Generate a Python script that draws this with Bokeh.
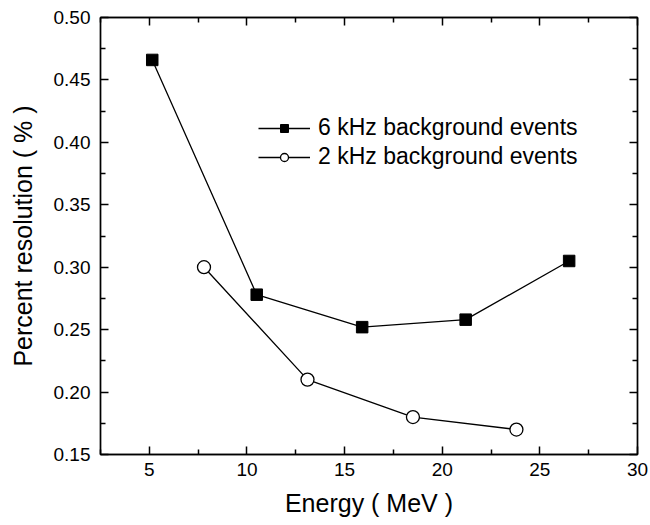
from bokeh.plotting import figure
from bokeh.models import LinearAxis, Range1d, NumeralTickFormatter, Legend, LegendItem, FixedTicker
from bokeh.embed import file_html
from bokeh.resources import INLINE

energy_6k = [5.15, 10.5, 15.9, 21.2, 26.5]
res_6k = [0.466, 0.278, 0.252, 0.258, 0.305]
energy_2k = [7.8, 13.1, 18.5, 23.8]
res_2k = [0.300, 0.210, 0.180, 0.170]
label_6k = "6 kHz background events"
label_2k = "2 kHz background events"
x_ticks = [5, 10, 15, 20, 25, 30]
x_minor = [2.5, 7.5, 12.5, 17.5, 22.5, 27.5]
y_ticks = [0.15, 0.20, 0.25, 0.30, 0.35, 0.40, 0.45, 0.50]
y_minor = [0.175, 0.225, 0.275, 0.325, 0.375, 0.425, 0.475]

FONT = "Liberation Sans"

p = figure(width=650, height=525, output_backend="svg", toolbar_location=None,
           x_range=Range1d(2.5, 30), y_range=Range1d(0.15, 0.50),
           min_border_left=100, min_border_right=13, min_border_top=17, min_border_bottom=71,
           x_axis_label="Energy ( MeV )", y_axis_label="Percent resolution ( % )")
p.grid.visible = False
p.outline_line_color = "black"
p.outline_line_width = 1.4

def style(ax):
    ax.axis_line_color = "black"
    ax.axis_line_width = 1.4
    ax.major_tick_in = 8
    ax.major_tick_out = 0
    ax.minor_tick_in = 5
    ax.minor_tick_out = 0
    ax.major_tick_line_color = "black"
    ax.minor_tick_line_color = "black"
    ax.major_tick_line_width = 1.5
    ax.minor_tick_line_width = 1.5
    ax.major_label_text_font = FONT
    ax.major_label_text_font_size = "19px"
    ax.major_label_text_color = "black"
    ax.axis_label_text_font = FONT
    ax.axis_label_text_font_style = "normal"
    ax.axis_label_text_font_size = "25px"
    ax.axis_label_text_color = "black"

for ax in p.xaxis:
    style(ax)
    ax.ticker = FixedTicker(ticks=x_ticks, minor_ticks=x_minor)
    ax.formatter = NumeralTickFormatter(format="0")
    ax.major_label_standoff = 8
    ax.axis_label_standoff = 10
for ax in p.yaxis:
    style(ax)
    ax.ticker = FixedTicker(ticks=y_ticks, minor_ticks=y_minor)
    ax.formatter = NumeralTickFormatter(format="0.00")
    ax.major_label_standoff = 10
    ax.axis_label_standoff = 14

top = LinearAxis(ticker=FixedTicker(ticks=x_ticks, minor_ticks=x_minor),
                 major_label_overrides={t: "" for t in x_ticks})
style(top)
top.major_label_text_font_size = "0px"
p.add_layout(top, "above")
right = LinearAxis(ticker=FixedTicker(ticks=y_ticks, minor_ticks=y_minor),
                   major_label_overrides={t: "" for t in y_ticks})
style(right)
right.major_label_text_font_size = "0px"
p.add_layout(right, "right")

l6 = p.line(energy_6k, res_6k, line_color="black", line_width=1.3)
m6 = p.scatter(energy_6k, res_6k, marker="square", size=11.5, fill_color="black", line_color="black")
l2 = p.line(energy_2k, res_2k, line_color="black", line_width=1.3)
m2 = p.scatter(energy_2k, res_2k, marker="circle", size=13, fill_color="white", line_color="black", line_width=1.3)

legend = Legend(items=[LegendItem(label=label_6k, renderers=[l6, m6]),
                       LegendItem(label=label_2k, renderers=[l2, m2])],
                location=(148, 274), border_line_alpha=0, background_fill_alpha=0,
                label_text_font=FONT, label_text_font_size="23px", label_text_color="black",
                glyph_width=52, glyph_height=20, spacing=2, label_standoff=8)
p.add_layout(legend, "center")

open("out.html", "w").write(file_html(p, INLINE))
